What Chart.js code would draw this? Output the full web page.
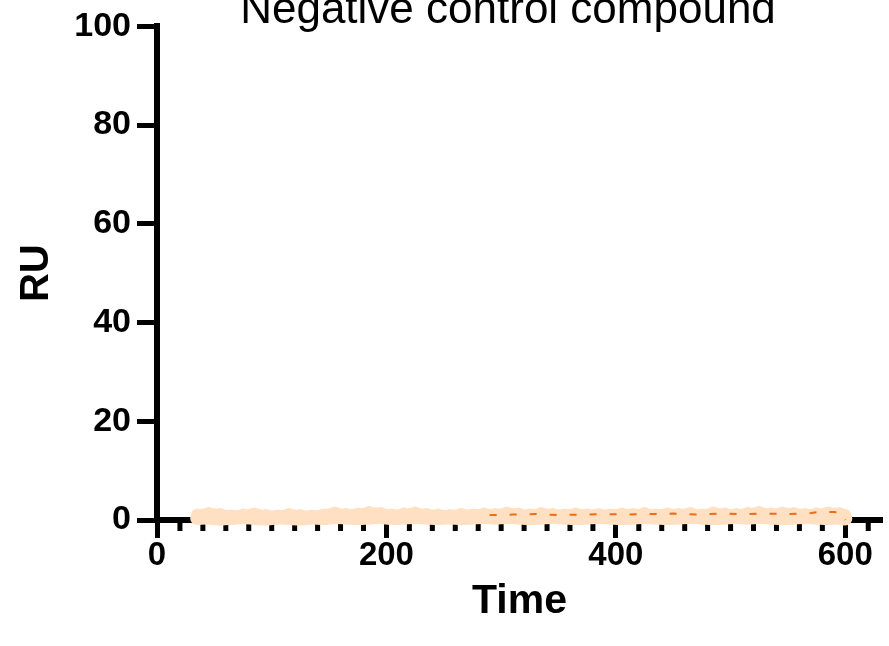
<!DOCTYPE html>
<html>
<head>
<meta charset="utf-8">
<script src="https://cdn.jsdelivr.net/npm/chart.js@4.4.1/dist/chart.umd.min.js"></script>
<style>
  html, body { margin: 0; padding: 0; background: #fff; }
  #wrap { width: 889px; height: 646px; position: relative; }
</style>
</head>
<body>
<div id="wrap"><canvas id="myChart" width="889" height="646"></canvas></div>
<script>
var chartTitle = 'Negative control compound';
var xTicks = [0, 200, 400, 600];
var yTicks = [0, 20, 40, 60, 80, 100];

// light trace (many replicate runs overlapping)
var timeA = [35, 45, 55, 65, 75, 85, 95, 105, 115, 125, 135, 145, 155, 165, 175, 185, 195, 205, 215, 225,
             235, 245, 255, 265, 275, 285, 295, 305, 315, 325, 335, 345, 355, 365, 375, 385, 395, 405, 415, 425,
             435, 445, 455, 465, 475, 485, 495, 505, 515, 525, 535, 545, 555, 565, 575, 585, 595, 600];
var ruA = [1.1, 1.4, 1.2, 0.9, 1.1, 1.3, 1.0, 0.9, 1.2, 1.0, 0.9, 1.1, 1.5, 1.2, 1.3, 1.6, 1.4, 1.1, 1.3, 1.5,
           1.2, 1.1, 1.0, 1.2, 1.1, 1.3, 1.2, 1.5, 1.3, 1.1, 1.4, 1.2, 1.1, 1.3, 1.1, 1.2, 1.1, 1.3, 1.2, 1.4,
           1.1, 1.3, 1.2, 1.4, 1.1, 1.5, 1.3, 1.2, 1.4, 1.6, 1.3, 1.5, 1.4, 1.2, 1.3, 1.5, 1.4, 1.0];
var ruB = [0.4, 0.5, 0.3, 0.4, 0.6, 0.4, 0.3, 0.5, 0.4, 0.3, 0.5, 0.4, 0.6, 0.5, 0.4, 0.5, 0.6, 0.4, 0.5, 0.6,
           0.5, 0.4, 0.5, 0.4, 0.5, 0.6, 0.5, 0.6, 0.5, 0.4, 0.5, 0.6, 0.5, 0.4, 0.5, 0.6, 0.5, 0.4, 0.5, 0.6,
           0.5, 0.4, 0.5, 0.6, 0.5, 0.4, 0.5, 0.6, 0.5, 0.6, 0.5, 0.4, 0.5, 0.6, 0.5, 0.4, 0.5, 0.3];

// darker trace
var timeC = [290, 310, 330, 350, 370, 390, 410, 430, 450, 470, 490, 510, 530, 550, 570, 580, 590, 597, 600];
var ruC = [1.0, 1.1, 1.2, 1.0, 1.1, 1.2, 1.1, 1.2, 1.3, 1.1, 1.3, 1.2, 1.3, 1.2, 1.4, 1.7, 1.6, 1.5, 0.0];

function pts(xs, ys) {
  var out = [];
  for (var i = 0; i < xs.length; i++) out.push({x: xs[i], y: ys[i]});
  return out;
}

var peach = 'rgb(255,224,194)';
var orange = 'rgb(240,108,18)';
var boldFont = function (s) { return {family: 'Liberation Sans, Arial, sans-serif', size: s, weight: 'bold'}; };

// title text at the very top (partly cut off like the original)
var titlePlugin = {
  id: 'topTitle',
  afterDraw: function (chart) {
    var ctx = chart.ctx;
    ctx.save();
    ctx.font = '44px "Liberation Sans", Arial, sans-serif';
    ctx.fillStyle = '#000';
    ctx.textAlign = 'center';
    ctx.textBaseline = 'alphabetic';
    ctx.fillText(chartTitle, 508, 23);
    ctx.restore();
  }
};

// minor ticks on the x axis, every 20 units
var minorTicks = {
  id: 'minorTicks',
  beforeDatasetsDraw: function (chart) {
    var sx = chart.scales.x, ctx = chart.ctx;
    var y0 = chart.chartArea.bottom;
    ctx.save();
    ctx.strokeStyle = '#000';
    ctx.lineWidth = 5;
    for (var v = 20; v <= sx.max; v += 20) {
      if (v % 200 === 0) continue;
      var px = sx.getPixelForValue(v);
      ctx.beginPath();
      ctx.moveTo(px, y0);
      ctx.lineTo(px, y0 + 11);
      ctx.stroke();
    }
    ctx.restore();
  }
};

var ctx = document.getElementById('myChart').getContext('2d');
var chart = new Chart(ctx, {
  type: 'line',
  data: {
    datasets: [
      {data: pts(timeC, ruC), borderColor: orange, backgroundColor: orange, borderWidth: 2,
       borderDash: [7, 13], pointRadius: 0, tension: 0, clip: false, order: 0},
      {data: pts(timeA, ruB), borderColor: peach, backgroundColor: peach, borderWidth: 14,
       pointRadius: 7, pointBorderWidth: 0, tension: 0.3, clip: false, order: 2},
      {data: pts(timeA, ruA), borderColor: peach, backgroundColor: peach, borderWidth: 10,
       pointRadius: 6, pointBorderWidth: 0, tension: 0.3, clip: false, order: 1}
    ]
  },
  options: {
    responsive: false,
    animation: false,
    layout: {padding: {top: 25, left: 0, right: 0, bottom: 0}},
    plugins: {legend: {display: false}, tooltip: {enabled: false}},
    scales: {
      x: {
        type: 'linear', min: 0, max: 632,
        afterBuildTicks: function (s) { s.ticks = xTicks.map(function (v) { return {value: v}; }); },
        afterFit: function (s) { s.height = 126; },
        border: {display: true, color: '#000', width: 6},
        grid: {display: true, drawOnChartArea: false, drawTicks: true, tickLength: 18, tickWidth: 5, tickColor: '#000'},
        ticks: {color: '#000', font: boldFont(33), padding: -2, maxRotation: 0},
        title: {display: true, text: 'Time', color: '#000', font: boldFont(41), padding: {top: 0, bottom: 20}}
      },
      y: {
        type: 'linear', min: 0, max: 100,
        afterBuildTicks: function (s) { s.ticks = yTicks.map(function (v) { return {value: v}; }); },
        afterFit: function (s) { s.width = 157; },
        border: {display: true, color: '#000', width: 6},
        grid: {display: true, drawOnChartArea: false, drawTicks: true, tickLength: 20, tickWidth: 5, tickColor: '#000'},
        ticks: {color: '#000', font: boldFont(34), padding: 6},
        title: {display: true, text: 'RU', color: '#000', font: boldFont(40), padding: {top: 13, bottom: 0}}
      }
    }
  },
  plugins: [titlePlugin, minorTicks]
});
</script>
</body>
</html>
